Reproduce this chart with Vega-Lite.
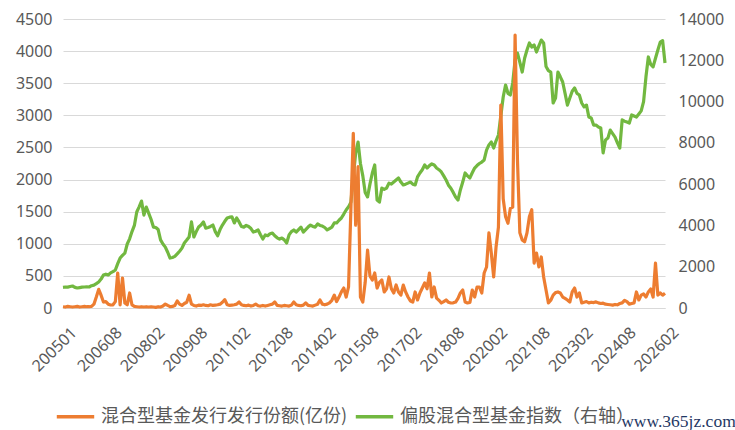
{
  "$schema": "https://vega.github.io/schema/vega-lite/v6.json",
  "autosize": "none",
  "width": 602,
  "height": 289,
  "padding": {"left": 63, "top": 19, "right": 70, "bottom": 122},
  "background": "white",
  "config": {
    "view": {"stroke": null},
    "font": "Noto Sans",
    "axis": {"labelFont": "Noto Sans", "labelFontSize": 16, "labelColor": "#595959", "ticks": false, "domain": false, "title": null}
  },
  "title": {"text": "www.365jz.com", "orient": "bottom", "anchor": "end", "font": "Liberation Serif", "fontSize": 17.5, "fontWeight": "normal", "color": "#1F3864", "offset": -13, "dx": 12},
  "data": {"values": [
    {"m":"200501","a":20,"b":1000},{"m":"200502","a":15,"b":1017},{"m":"200503","a":25,"b":1010},{"m":"200504","a":20,"b":1040},{"m":"200505","a":15,"b":1065},{"m":"200506","a":20,"b":1000},{"m":"200507","a":25,"b":970},{"m":"200508","a":15,"b":990},{"m":"200509","a":20,"b":1010},{"m":"200510","a":25,"b":1017},{"m":"200511","a":20,"b":1030},{"m":"200512","a":20,"b":1017},
    {"m":"200601","a":25,"b":1080},{"m":"200602","a":60,"b":1110},{"m":"200603","a":170,"b":1180},{"m":"200604","a":290,"b":1260},{"m":"200605","a":200,"b":1400},{"m":"200606","a":93,"b":1600},{"m":"200607","a":100,"b":1640},{"m":"200608","a":60,"b":1600},{"m":"200609","a":47,"b":1700},{"m":"200610","a":50,"b":1760},{"m":"200611","a":100,"b":1840},{"m":"200612","a":545,"b":2150},
    {"m":"200701","a":47,"b":2420},{"m":"200702","a":467,"b":2550},{"m":"200703","a":78,"b":2660},{"m":"200704","a":50,"b":3100},{"m":"200705","a":234,"b":3350},{"m":"200706","a":47,"b":3700},{"m":"200707","a":25,"b":4000},{"m":"200708","a":20,"b":4650},{"m":"200709","a":15,"b":4900},{"m":"200710","a":20,"b":5180},{"m":"200711","a":15,"b":4500},{"m":"200712","a":20,"b":4890},
    {"m":"200801","a":15,"b":4600},{"m":"200802","a":20,"b":4300},{"m":"200803","a":15,"b":3920},{"m":"200804","a":10,"b":3900},{"m":"200805","a":20,"b":3800},{"m":"200806","a":15,"b":3300},{"m":"200807","a":30,"b":3100},{"m":"200808","a":62,"b":2950},{"m":"200809","a":40,"b":2700},{"m":"200810","a":20,"b":2420},{"m":"200811","a":25,"b":2450},{"m":"200812","a":40,"b":2500},
    {"m":"200901","a":110,"b":2620},{"m":"200902","a":60,"b":2750},{"m":"200903","a":40,"b":2900},{"m":"200904","a":70,"b":3150},{"m":"200905","a":90,"b":3290},{"m":"200906","a":200,"b":3440},{"m":"200907","a":60,"b":4170},{"m":"200908","a":40,"b":3440},{"m":"200909","a":30,"b":3700},{"m":"200910","a":45,"b":3920},{"m":"200911","a":40,"b":4020},{"m":"200912","a":50,"b":4170},
    {"m":"201001","a":40,"b":3870},{"m":"201002","a":35,"b":3900},{"m":"201003","a":50,"b":3950},{"m":"201004","a":40,"b":4020},{"m":"201005","a":45,"b":3700},{"m":"201006","a":50,"b":3500},{"m":"201007","a":60,"b":3800},{"m":"201008","a":90,"b":4020},{"m":"201009","a":130,"b":4200},{"m":"201010","a":50,"b":4360},{"m":"201011","a":40,"b":4400},{"m":"201012","a":45,"b":4410},
    {"m":"201101","a":50,"b":4120},{"m":"201102","a":60,"b":4360},{"m":"201103","a":93,"b":4170},{"m":"201104","a":50,"b":3950},{"m":"201105","a":40,"b":3920},{"m":"201106","a":35,"b":4000},{"m":"201107","a":45,"b":3950},{"m":"201108","a":30,"b":3850},{"m":"201109","a":40,"b":3680},{"m":"201110","a":60,"b":3720},{"m":"201111","a":35,"b":3780},{"m":"201112","a":30,"b":3550},
    {"m":"201201","a":40,"b":3340},{"m":"201202","a":30,"b":3540},{"m":"201203","a":40,"b":3500},{"m":"201204","a":50,"b":3600},{"m":"201205","a":60,"b":3630},{"m":"201206","a":93,"b":3500},{"m":"201207","a":40,"b":3400},{"m":"201208","a":35,"b":3340},{"m":"201209","a":30,"b":3390},{"m":"201210","a":40,"b":3300},{"m":"201211","a":35,"b":3150},{"m":"201212","a":30,"b":3540},
    {"m":"201301","a":45,"b":3700},{"m":"201302","a":93,"b":3780},{"m":"201303","a":50,"b":3680},{"m":"201304","a":40,"b":3800},{"m":"201305","a":35,"b":3920},{"m":"201306","a":45,"b":3680},{"m":"201307","a":80,"b":3800},{"m":"201308","a":40,"b":3920},{"m":"201309","a":35,"b":4020},{"m":"201310","a":30,"b":3950},{"m":"201311","a":45,"b":3920},{"m":"201312","a":60,"b":4070},
    {"m":"201401","a":125,"b":4000},{"m":"201402","a":60,"b":3970},{"m":"201403","a":50,"b":3900},{"m":"201404","a":60,"b":3780},{"m":"201405","a":80,"b":3850},{"m":"201406","a":120,"b":3920},{"m":"201407","a":200,"b":4120},{"m":"201408","a":100,"b":4120},{"m":"201409","a":170,"b":4250},{"m":"201410","a":250,"b":4360},{"m":"201411","a":311,"b":4550},{"m":"201412","a":171,"b":4750},
    {"m":"201501","a":327,"b":4900},{"m":"201502","a":1550,"b":5130},{"m":"201503","a":2720,"b":6350},{"m":"201504","a":1290,"b":7500},{"m":"201505","a":2200,"b":8040},{"m":"201506","a":171,"b":7000},{"m":"201507","a":93,"b":6400},{"m":"201508","a":400,"b":5600},{"m":"201509","a":900,"b":5380},{"m":"201510","a":500,"b":6000},{"m":"201511","a":436,"b":6540},{"m":"201512","a":545,"b":6930},
    {"m":"201601","a":311,"b":5230},{"m":"201602","a":400,"b":5130},{"m":"201603","a":436,"b":5810},{"m":"201604","a":250,"b":5750},{"m":"201605","a":300,"b":5810},{"m":"201606","a":483,"b":6050},{"m":"201607","a":300,"b":6000},{"m":"201608","a":234,"b":6100},{"m":"201609","a":358,"b":6200},{"m":"201610","a":250,"b":6300},{"m":"201611","a":200,"b":6100},{"m":"201612","a":358,"b":5960},
    {"m":"201701","a":250,"b":6000},{"m":"201702","a":171,"b":6050},{"m":"201703","a":110,"b":6100},{"m":"201704","a":93,"b":6000},{"m":"201705","a":250,"b":5960},{"m":"201706","a":125,"b":6350},{"m":"201707","a":234,"b":6540},{"m":"201708","a":311,"b":6700},{"m":"201709","a":390,"b":6930},{"m":"201710","a":300,"b":6780},{"m":"201711","a":545,"b":6900},{"m":"201712","a":171,"b":6980},
    {"m":"201801","a":327,"b":6930},{"m":"201802","a":155,"b":6780},{"m":"201803","a":120,"b":6700},{"m":"201804","a":78,"b":6590},{"m":"201805","a":100,"b":6400},{"m":"201806","a":125,"b":6200},{"m":"201807","a":90,"b":5950},{"m":"201808","a":78,"b":5800},{"m":"201809","a":80,"b":5600},{"m":"201810","a":93,"b":5380},{"m":"201811","a":150,"b":5230},{"m":"201812","a":234,"b":5720},
    {"m":"201901","a":280,"b":6100},{"m":"201902","a":93,"b":6540},{"m":"201903","a":78,"b":6400},{"m":"201904","a":85,"b":6300},{"m":"201905","a":280,"b":6550},{"m":"201906","a":171,"b":6780},{"m":"201907","a":327,"b":6900},{"m":"201908","a":327,"b":7000},{"m":"201909","a":234,"b":7070},{"m":"201910","a":545,"b":7170},{"m":"201911","a":638,"b":7650},{"m":"201912","a":1170,"b":7900},
    {"m":"202001","a":856,"b":8040},{"m":"202002","a":483,"b":7750},{"m":"202003","a":950,"b":8100},{"m":"202004","a":1260,"b":8380},{"m":"202005","a":3160,"b":9300},{"m":"202006","a":1700,"b":10220},{"m":"202007","a":1420,"b":10800},{"m":"202008","a":1320,"b":10400},{"m":"202009","a":1550,"b":10320},{"m":"202010","a":1570,"b":10900},{"m":"202011","a":4250,"b":12010},{"m":"202012","a":2300,"b":12350},
    {"m":"202101","a":1170,"b":11900},{"m":"202102","a":1060,"b":11430},{"m":"202103","a":1030,"b":12100},{"m":"202104","a":1170,"b":12500},{"m":"202105","a":1420,"b":12840},{"m":"202106","a":1530,"b":12640},{"m":"202107","a":700,"b":12740},{"m":"202108","a":856,"b":12400},{"m":"202109","a":640,"b":12700},{"m":"202110","a":795,"b":12980},{"m":"202111","a":483,"b":12840},{"m":"202112","a":280,"b":11700},
    {"m":"202201","a":78,"b":11500},{"m":"202202","a":120,"b":11430},{"m":"202203","a":200,"b":9930},{"m":"202204","a":240,"b":10170},{"m":"202205","a":250,"b":11430},{"m":"202206","a":234,"b":11200},{"m":"202207","a":171,"b":10950},{"m":"202208","a":150,"b":10400},{"m":"202209","a":125,"b":9830},{"m":"202210","a":93,"b":10170},{"m":"202211","a":250,"b":10500},{"m":"202212","a":311,"b":10660},
    {"m":"202301","a":171,"b":10400},{"m":"202302","a":234,"b":10320},{"m":"202303","a":78,"b":9930},{"m":"202304","a":90,"b":9740},{"m":"202305","a":100,"b":9830},{"m":"202306","a":80,"b":9250},{"m":"202307","a":90,"b":9200},{"m":"202308","a":85,"b":8860},{"m":"202309","a":95,"b":8860},{"m":"202310","a":80,"b":8770},{"m":"202311","a":70,"b":8720},{"m":"202312","a":75,"b":7510},
    {"m":"202401","a":60,"b":8140},{"m":"202402","a":55,"b":8230},{"m":"202403","a":50,"b":8620},{"m":"202404","a":45,"b":8450},{"m":"202405","a":55,"b":8280},{"m":"202406","a":50,"b":8000},{"m":"202407","a":70,"b":7750},{"m":"202408","a":80,"b":9110},{"m":"202409","a":120,"b":9050},{"m":"202410","a":100,"b":9010},{"m":"202411","a":60,"b":8960},{"m":"202412","a":70,"b":9350},
    {"m":"202501","a":80,"b":9300},{"m":"202502","a":250,"b":9250},{"m":"202503","a":125,"b":9400},{"m":"202504","a":200,"b":9550},{"m":"202505","a":218,"b":10000},{"m":"202506","a":170,"b":11200},{"m":"202507","a":250,"b":12160},{"m":"202508","a":296,"b":11800},{"m":"202509","a":171,"b":11680},{"m":"202510","a":700,"b":12100},{"m":"202511","a":200,"b":12500},{"m":"202512","a":234,"b":12880},
    {"m":"202601","a":200,"b":12950},{"m":"202602","a":230,"b":11870}
  ]},
  "encoding": {
    "x": {
      "field": "m",
      "type": "ordinal",
      "sort": null,
      "scale": {"type": "point", "padding": 0},
      "axis": {
        "values": ["200501","200608","200802","200908","201102","201208","201402","201508","201702","201808","202002","202108","202302","202408","202602"],
        "labelAngle": -45,
        "labelFontSize": 16,
        "labelPadding": 16,
        "labelOffset": 5,
        "domain": true,
        "domainColor": "#D9D9D9",
        "grid": false
      }
    }
  },
  "layer": [
    {
      "mark": {"type": "line", "strokeWidth": 3.2, "strokeJoin": "round"},
      "encoding": {
        "y": {
          "field": "b",
          "type": "quantitative",
          "scale": {"domain": [0, 14000]},
          "axis": {"orient": "right", "values": [0,2000,4000,6000,8000,10000,12000,14000], "format": "d", "grid": false, "labelPadding": 13}
        },
        "color": {"datum": "偏股混合型基金指数（右轴）"}
      }
    },
    {
      "mark": {"type": "line", "strokeWidth": 3.2, "strokeJoin": "round"},
      "encoding": {
        "y": {
          "field": "a",
          "type": "quantitative",
          "scale": {"domain": [0, 4500]},
          "axis": {"orient": "left", "values": [0,500,1000,1500,2000,2500,3000,3500,4000,4500], "format": "d", "grid": true, "gridColor": "#D9D9D9", "labelPadding": 11}
        },
        "color": {
          "datum": "混合型基金发行发行份额(亿份)",
          "scale": {"domain": ["混合型基金发行发行份额(亿份)", "偏股混合型基金指数（右轴）"], "range": ["#ED7D31", "#72B840"]},
          "legend": {
            "orient": "none",
            "legendX": -8,
            "legendY": 377,
            "direction": "horizontal",
            "title": null,
            "labelFont": "Noto Sans CJK SC",
            "labelFontSize": 18,
            "labelColor": "#595959",
            "labelLimit": 400,
            "labelOffset": 5,
            "symbolType": "stroke",
            "symbolStrokeWidth": 3.5,
            "symbolSize": 1400,
            "columnPadding": 0
          }
        }
      }
    }
  ],
  "resolve": {"scale": {"y": "independent"}}
}
